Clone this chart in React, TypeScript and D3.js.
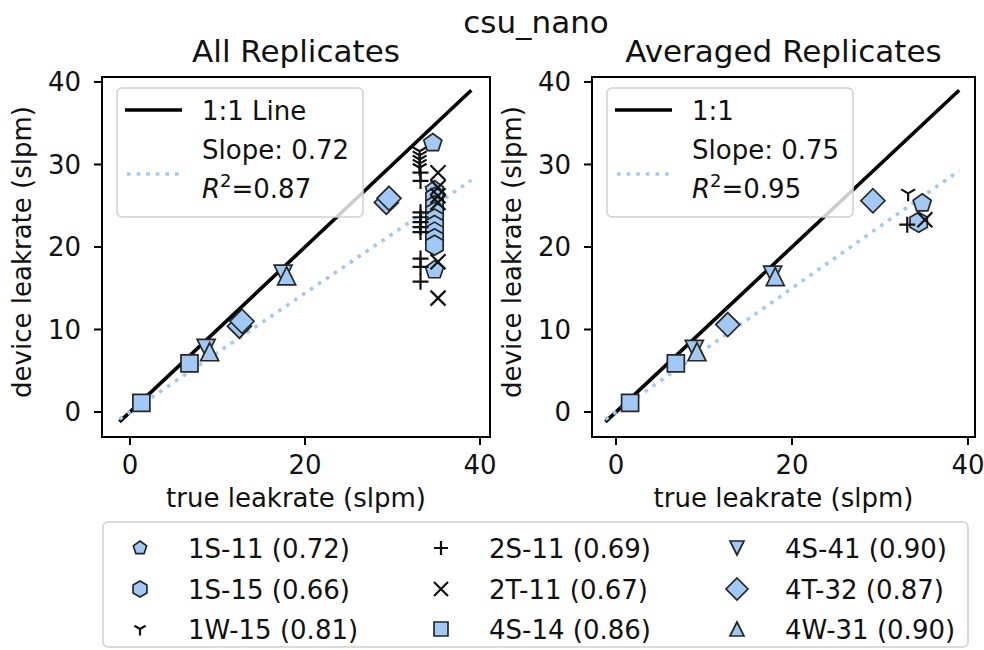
import React from "react";
import * as d3 from "d3";

// ---------- data ----------
const seriesNames = ["1S-11", "1S-15", "1W-15", "2S-11", "2T-11", "4S-14", "4S-41", "4T-32", "4W-31"];
const seriesScores = ["0.72", "0.66", "0.81", "0.69", "0.67", "0.86", "0.90", "0.87", "0.90"];
const seriesMarkers = ["pentagon", "hexagon", "tri_down", "plus", "x", "square", "triangle_down", "diamond", "triangle_up"];

// All replicates (true leakrate, device leakrate) per series
const allTrue = [
  [34.6, 34.8, 34.8],
  [34.8, 34.8, 34.8, 34.8, 34.8, 34.8, 34.8, 34.8],
  [33.1, 33.1, 33.1, 33.1, 33.1],
  [33.2, 33.2, 33.2, 33.2, 33.2, 33.2, 33.2, 33.2, 33.2, 33.2],
  [35.2, 35.2, 35.2, 35.2, 35.2, 35.2],
  [1.3, 6.8],
  [8.7, 17.5],
  [12.5, 12.8, 29.3, 29.6],
  [9.1, 17.9],
];
const allDevice = [
  [32.6, 26.9, 17.2],
  [26.0, 25.0, 24.2, 23.4, 22.6, 21.8, 21.0, 20.2],
  [31.6, 31.1, 30.6, 30.1, 29.6],
  [29.0, 28.0, 24.2, 23.6, 23.0, 22.4, 21.8, 18.6, 17.6, 15.8],
  [29.0, 27.2, 26.2, 25.4, 18.2, 13.8],
  [1.1, 5.9],
  [7.7, 16.7],
  [10.4, 11.0, 25.4, 25.9],
  [7.3, 16.5],
];

// Averaged replicates
const avgTrue = [[34.8], [34.4], [33.2], [33.1], [35.1], [1.6, 6.8], [8.9, 17.8], [12.7, 29.2], [9.2, 18.1]];
const avgDevice = [[25.3], [23.0], [26.5], [22.7], [23.3], [1.1, 5.9], [7.6, 16.6], [10.6, 25.6], [7.3, 16.4]];

const allSlope = 0.72;
const allR2 = "0.87";
const avgSlope = 0.75;
const avgR2 = "0.95";
const lineRange = [-1.2, 39];
const tickValues = [0, 10, 20, 30, 40];
const xTickValues = [0, 20, 40];

// ---------- style ----------
const FILL = "#a1c9f4";
const EDGE = "#262626";
const FONT = "'DejaVu Sans', sans-serif";
const FS = 26;

function poly(n: number, r: number, start: number) {
  const pts: string[] = [];
  for (let i = 0; i < n; i++) {
    const a = start + (i * 2 * Math.PI) / n;
    pts.push(`${(r * Math.cos(a)).toFixed(2)},${(r * Math.sin(a)).toFixed(2)}`);
  }
  return "M" + pts.join("L") + "Z";
}

function markerPath(kind: string, r: number): string {
  switch (kind) {
    case "square":
      return `M${-r},${-r}H${r}V${r}H${-r}Z`;
    case "diamond":
      return `M0,${-r}L${r},0L0,${r}L${-r},0Z`;
    case "triangle_up":
      return `M0,${-r}L${r},${r}L${-r},${r}Z`;
    case "triangle_down":
      return `M0,${r}L${r},${-r}L${-r},${-r}Z`;
    case "pentagon":
      return poly(5, r, -Math.PI / 2);
    case "hexagon":
      return poly(6, r, -Math.PI / 2);
    case "plus":
      return `M${-r},0H${r}M0,${-r}V${r}`;
    case "x":
      return `M${-r},${-r}L${r},${r}M${-r},${r}L${r},${-r}`;
    case "tri_down":
      return `M0,0L0,${r}M0,0L${-0.866 * r},${-0.5 * r}M0,0L${0.866 * r},${-0.5 * r}`;
  }
  return "";
}

const plotSize: Record<string, number> = {
  square: 8.5, diamond: 12, triangle_up: 9, triangle_down: 9, pentagon: 9.5,
  hexagon: 10, plus: 8, x: 7.5, tri_down: 8,
};
const legendSize: Record<string, number> = {
  square: 7, diamond: 11, triangle_up: 7, triangle_down: 7, pentagon: 7,
  hexagon: 8, plus: 7, x: 7, tri_down: 6.5,
};

function Marker({ kind, x, y, r }: { kind: string; x: number; y: number; r: number }) {
  const lineOnly = kind === "plus" || kind === "x" || kind === "tri_down";
  return (
    <path
      d={markerPath(kind, r)}
      transform={`translate(${x},${y})`}
      fill={lineOnly ? "none" : FILL}
      stroke={lineOnly ? "#111" : EDGE}
      strokeWidth={lineOnly ? 2.2 : 1.7}
      strokeLinejoin="miter"
    />
  );
}

type PanelProps = {
  left: number; right: number; top: number; bottom: number;
  xDomain: [number, number]; yDomain: [number, number];
  title: string; lineLabel: string; slope: number; r2: string;
  xs: number[][]; ys: number[][];
};

function Panel(p: PanelProps) {
  const x = d3.scaleLinear().domain(p.xDomain).range([p.left, p.right]);
  const y = d3.scaleLinear().domain(p.yDomain).range([p.bottom, p.top]);
  const line = d3.line<[number, number]>().x((d) => x(d[0])).y((d) => y(d[1]));
  const oneToOne = line(lineRange.map((v) => [v, v] as [number, number])) || "";
  const fit = line(lineRange.map((v) => [v, v * p.slope] as [number, number])) || "";
  const lx = p.left + 15;
  const ly = p.top + 11;
  return (
    <g>
      {/* data */}
      <path d={oneToOne} stroke="#000" strokeWidth={3.6} fill="none" />
      <path d={fit} stroke={FILL} strokeWidth={3.6} fill="none" strokeDasharray="3.6 6" />
      {p.xs.map((arr, si) =>
        arr.map((xv, i) => (
          <Marker key={`${si}-${i}`} kind={seriesMarkers[si]} x={x(xv)} y={y(p.ys[si][i])} r={plotSize[seriesMarkers[si]]} />
        ))
      )}
      {/* frame */}
      <rect x={p.left} y={p.top} width={p.right - p.left} height={p.bottom - p.top} fill="none" stroke="#000" strokeWidth={2} />
      {/* y ticks */}
      {tickValues.map((t) => (
        <g key={`y${t}`}>
          <line x1={p.left - 8} x2={p.left} y1={y(t)} y2={y(t)} stroke="#000" strokeWidth={2} />
          <text x={p.left - 21} y={y(t) + 9.5} textAnchor="end" fontSize={FS} fontFamily={FONT} fill="#111">{t}</text>
        </g>
      ))}
      {xTickValues.map((t) => (
        <g key={`x${t}`}>
          <line x1={x(t)} x2={x(t)} y1={p.bottom} y2={p.bottom + 8} stroke="#000" strokeWidth={2} />
          <text x={x(t)} y={p.bottom + 37} textAnchor="middle" fontSize={FS} fontFamily={FONT} fill="#111">{t}</text>
        </g>
      ))}
      <text x={(p.left + p.right) / 2} y={p.bottom + 70} textAnchor="middle" fontSize={FS} fontFamily={FONT} fill="#111">true leakrate (slpm)</text>
      <text transform={`translate(${p.left - 71},${(p.top + p.bottom) / 2 - 5}) rotate(-90)`} textAnchor="middle" fontSize={FS} fontFamily={FONT} fill="#111">device leakrate (slpm)</text>
      <text x={(p.left + p.right) / 2} y={p.top - 15} textAnchor="middle" fontSize={31} fontFamily={FONT} fill="#111">{p.title}</text>
      {/* legend */}
      <rect x={lx} y={ly} width={246} height={129} rx={5} fill="#fff" fillOpacity={0.8} stroke="#d0d0d0" strokeWidth={1.5} />
      <line x1={lx + 8} x2={lx + 65} y1={ly + 22} y2={ly + 22} stroke="#000" strokeWidth={3.6} />
      <line x1={lx + 10} x2={lx + 65} y1={ly + 86} y2={ly + 86} stroke={FILL} strokeWidth={3.6} strokeDasharray="3.6 6" />
      <text x={lx + 85} y={ly + 32} fontSize={FS} fontFamily={FONT} fill="#111">{p.lineLabel}</text>
      <text x={lx + 85} y={ly + 71} fontSize={FS} fontFamily={FONT} fill="#111">{`Slope: ${p.slope.toFixed(2)}`}</text>
      <text x={lx + 85} y={ly + 110} fontSize={FS} fontFamily={FONT} fill="#111">
        <tspan fontStyle="italic">R</tspan>
        <tspan dy={-11} fontSize={18}>2</tspan>
        <tspan dy={11}>{`=${p.r2}`}</tspan>
      </text>
    </g>
  );
}

export default function App() {
  const legendCols = [140, 441, 737];
  const legendRows = [548, 589, 629];
  return (
    <svg width={984} height={650} style={{ display: "block", position: "absolute", left: 0, top: 0, background: "#fff" }}>
      <rect x={0} y={0} width={984} height={650} fill="#fff" />
      <text x={536} y={33} textAnchor="middle" fontSize={31} fontFamily={FONT} fill="#111">csu_nano</text>
      <Panel left={102} right={490} top={77} bottom={437} xDomain={[-3.2, 41.14]} yDomain={[-3.03, 40.6]}
        title="All Replicates" lineLabel="1:1 Line" slope={allSlope} r2={allR2} xs={allTrue} ys={allDevice} />
      <Panel left={592} right={975} top={77} bottom={437} xDomain={[-2.73, 40.8]} yDomain={[-3.03, 40.6]}
        title="Averaged Replicates" lineLabel="1:1" slope={avgSlope} r2={avgR2} xs={avgTrue} ys={avgDevice} />
      {/* bottom legend */}
      <rect x={103} y={522} width={865} height={125} rx={5} fill="#fff" stroke="#d0d0d0" strokeWidth={1.5} />
      {seriesNames.map((name, i) => {
        const col = Math.floor(i / 3);
        const row = i % 3;
        const mx = legendCols[col];
        const my = legendRows[row];
        return (
          <g key={name}>
            <Marker kind={seriesMarkers[i]} x={mx} y={my} r={legendSize[seriesMarkers[i]]} />
            <text x={mx + 48} y={my + 9.5} fontSize={FS} fontFamily={FONT} fill="#111">{`${name} (${seriesScores[i]})`}</text>
          </g>
        );
      })}
    </svg>
  );
}
